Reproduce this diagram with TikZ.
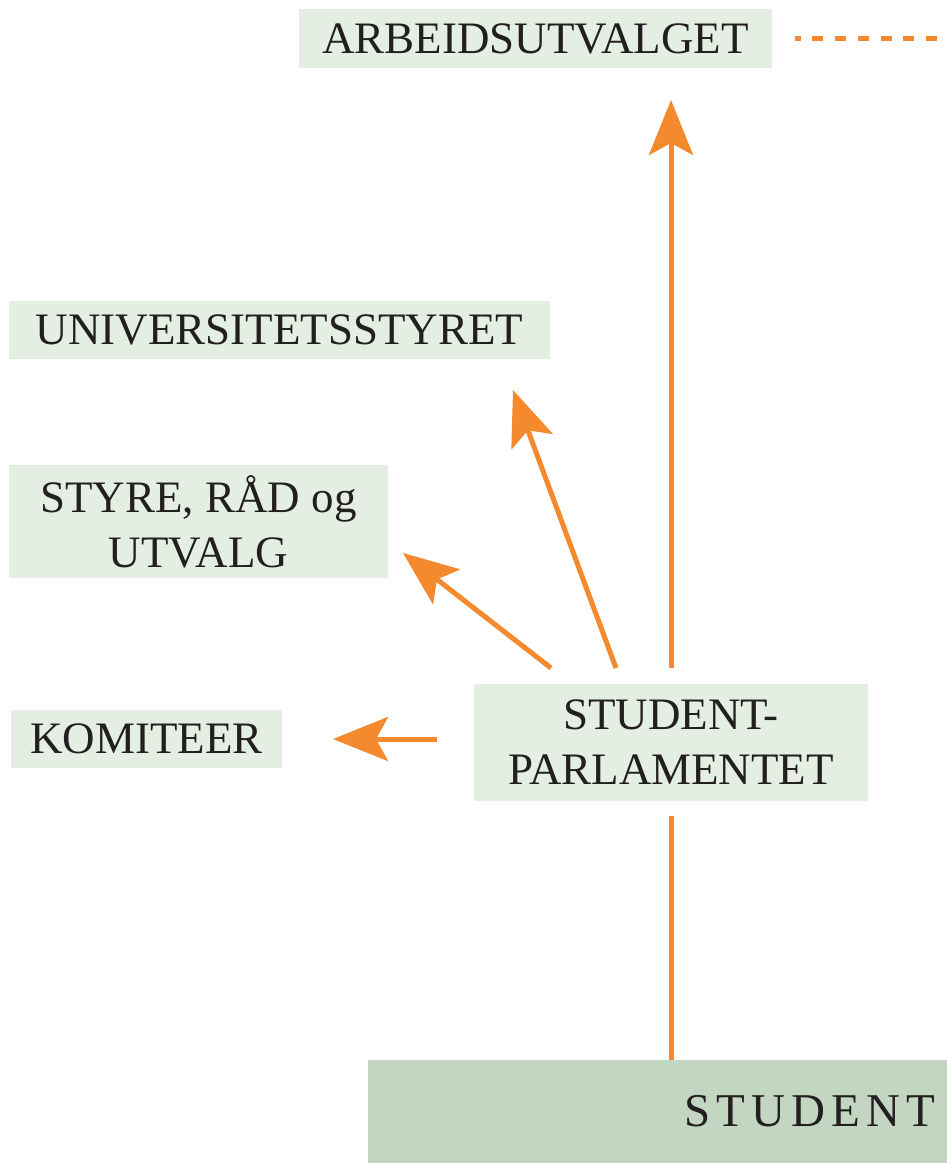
\documentclass[tikz,border=0pt]{standalone}
\usepackage{fontspec}
\setmainfont{Liberation Serif}
\definecolor{O}{RGB}{245,137,46}
\definecolor{G}{RGB}{228,238,227}
\definecolor{D}{RGB}{195,214,193}
\definecolor{ink}{RGB}{35,31,32}
\usepackage{tikz}
\usetikzlibrary{arrows.meta}
\usetikzlibrary{positioning}
\tikzstyle{base}=[x=0.5pt, y=-0.5pt, inner sep=0pt, outer sep=0pt, font=\fontsize{22.5pt}{27.5pt}\selectfont, text=ink]
\tikzstyle{box}=[fill=G, align=center]
\tikzstyle{arr}=[O, line width=2.5pt, -{Stealth[length=27.5pt, width=22pt, inset=6pt]}]
\tikzstyle{link}=[O, line width=2.5pt]

\begin{document}
\begin{tikzpicture}[base]
    \useasboundingbox (0,0) rectangle (947,1163);
        \node [box, minimum width=236.5pt, minimum height=29.5pt] (au) at (535.5,38.5) {ARBEIDSUTVALGET};
        \node [box, minimum width=270.5pt, minimum height=29pt] (univ) at (279.5,330) {UNIVERSITETSSTYRET};
        \node [box, minimum width=189.5pt, minimum height=56.5pt] (styre) at (198.5,521.5) {STYRE, RÅD og\\UTVALG};
        \node [box, minimum width=135.5pt, minimum height=29pt] (kom) at (146.5,739) {KOMITEER};
        \node [box, minimum width=197pt, minimum height=58.5pt] (sp) at (671,742.5) {STUDENT-\\PARLAMENTET};
        \node [fill=D, minimum width=289.5pt, minimum height=51.5pt, inner xsep=6pt, text width=277.5pt, align=right] (stu) at (657.5,1111.5) {\fontsize{23.5pt}{27.5pt}\selectfont\addfontfeatures{LetterSpace=13}STUDENT};
        \coordinate (edge) at (947,36);
        \draw [link, dash pattern=on 5.5pt off 5.85pt, dash phase=2.65pt, shorten <=11.5pt] (au.east) -- (au.east -| edge);
        \draw [arr] ([yshift=8pt]sp.north) -- ([yshift=-16pt]sp.north |- au.south);
        \draw [arr] ([xshift=-27.5pt, yshift=8pt]sp.north) -- ([xshift=-18.5pt, yshift=-15.5pt]univ.south east);
        \draw [arr] ([xshift=-60pt, yshift=8pt]sp.north) -- ([xshift=7.5pt, yshift=12.5pt]styre.south east);
        \draw [arr, shorten <=18.5pt, shorten >=25.5pt] (kom.east -| sp.west) -- (kom.east);
        \draw [link] (sp.south |- stu.north) -- ([yshift=-7.5pt]sp.south);
    \end{tikzpicture}
\end{document}
